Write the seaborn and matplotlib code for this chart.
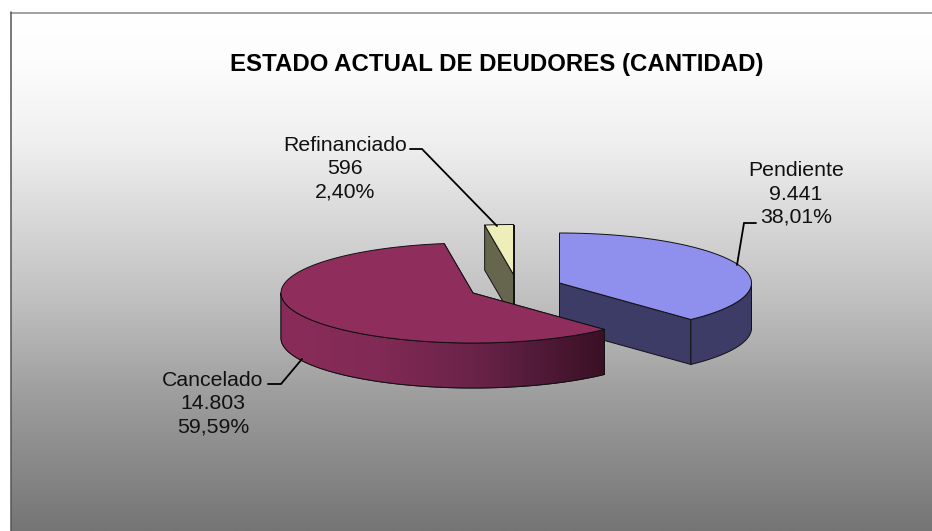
import numpy as np
import matplotlib
matplotlib.use("Agg")
import matplotlib.pyplot as plt
from matplotlib.patches import Polygon
from matplotlib.colors import LinearSegmentedColormap
import seaborn as sns

# Data
categories = ["Pendiente", "Cancelado", "Refinanciado"]
values = [9441, 14803, 596]
value_labels = ["9.441", "14.803", "596"]
pct_labels = ["38,01%", "59,59%", "2,40%"]
title = "ESTADO ACTUAL DE DEUDORES (CANTIDAD)"

# Style and layout
W, H = 932, 531
RX, RY, DEPTH = 192, 50, 45
centres = [(559.5, 283), (473, 293), (513.5, 274.5)]
top_cols = sns.color_palette(["#8f8fee", "#8f2d5d", "#eeeebb"])
side_cols = sns.color_palette(["#3c3c66", "#8a2c5a", "#66664f"])
label_pos = [(796, 194), (213, 403.5), (345, 168.5)]
leaders = [[(756, 223), (744, 223), (737, 265)],
           [(268, 384), (281, 384), (302, 359)],
           [(410, 149), (422, 149), (497, 226)]]

sns.set_theme(style="white")
plt.rcParams["font.family"] = ["Liberation Sans", "DejaVu Sans"]

fig = plt.figure(figsize=(W / 100, H / 100), dpi=100, facecolor="white")
ax = fig.add_axes([0, 0, 1, 1])

# Panel background
ys = np.arange(12, H + 1)
grey = np.interp(ys, [12, 60, 140, 200, 300, 400, 531],
                 [255, 253, 240, 222, 192, 156, 117]) / 255
ax.imshow(np.repeat(grey[:, None, None], 3, axis=2), aspect="auto",
          extent=(10.5, W, H, 12.5), zorder=0, interpolation="bilinear")
ax.plot([10.5, W], [12.5, 12.5], color="#a0a0a0", lw=1.4, zorder=1)
ax.plot([10.5, 10.5], [12, H], color="#555555", lw=1.1, zorder=1)

# Slices
fractions = np.array(values) / np.sum(values)
ends = np.cumsum(fractions) * 2 * np.pi
starts = ends - fractions * 2 * np.pi
EC = dict(edgecolor="#111111", linewidth=0.7, joinstyle="round")
wall_cmap = LinearSegmentedColormap.from_list(
    "wall", [(0, "#8a2c5a"), (0.3, "#812a55"), (0.6, "#6a2348"),
             (0.8, "#511a38"), (1, "#3a1024")])


def pt(c, a):
    return (c[0] + RX * np.sin(a), c[1] - RY * np.cos(a))


order = [0, 2, 1]
for z, i in enumerate(order):
    c, a0, a1 = centres[i], starts[i], ends[i]
    base = 2 + z * 5
    # radial cut faces
    for a in (a0, a1):
        p = pt(c, a)
        ax.add_patch(Polygon([c, p, (p[0], p[1] + DEPTH), (c[0], c[1] + DEPTH)],
                             closed=True, facecolor=side_cols[i], zorder=base, **EC))
    # outer wall: only the part that faces the viewer
    w0, w1 = max(a0, np.pi / 2), min(a1, 3 * np.pi / 2)
    if w1 > w0:
        th = np.linspace(w0, w1, 160)
        arc = np.array([pt(c, t) for t in th])
        wall = np.vstack([arc, arc[::-1] + [0, DEPTH]])
        poly = Polygon(wall, closed=True, facecolor=side_cols[i], zorder=base + 1, **EC)
        ax.add_patch(poly)
        if i == 1:
            x0, x1 = wall[:, 0].min(), wall[:, 0].max()
            y0, y1 = wall[:, 1].min(), wall[:, 1].max()
            im = ax.imshow(np.linspace(0, 1, 256)[None, :], cmap=wall_cmap, aspect="auto",
                           extent=(x0, x1, y1, y0), zorder=base + 2)
            im.set_clip_path(poly)
            ax.add_patch(Polygon(wall, closed=True, fill=False, zorder=base + 3, **EC))
    # top face
    th = np.linspace(a0, a1, 200)
    ax.add_patch(Polygon([c] + [pt(c, t) for t in th], closed=True,
                         facecolor=top_cols[i], zorder=base + 4, **EC))

# Leaders and labels
for i, name in enumerate(categories):
    xs, yy = zip(*leaders[i])
    ax.plot(xs, yy, color="black", lw=1.3, zorder=40, solid_joinstyle="miter")
    ax.text(label_pos[i][0], label_pos[i][1],
            f"{name}\n{value_labels[i]}\n{pct_labels[i]}",
            ha="center", va="center", fontsize=15.3, color="#111111",
            linespacing=1.27, zorder=41)

ax.text(497, 65, title, ha="center", va="center", fontsize=17.3,
        fontweight="bold", color="black", zorder=41)

ax.set_xlim(0, W)
ax.set_ylim(H, 0)
ax.axis("off")
sns.despine(ax=ax, left=True, bottom=True)
fig.savefig("out.png", dpi=100, facecolor="white")
